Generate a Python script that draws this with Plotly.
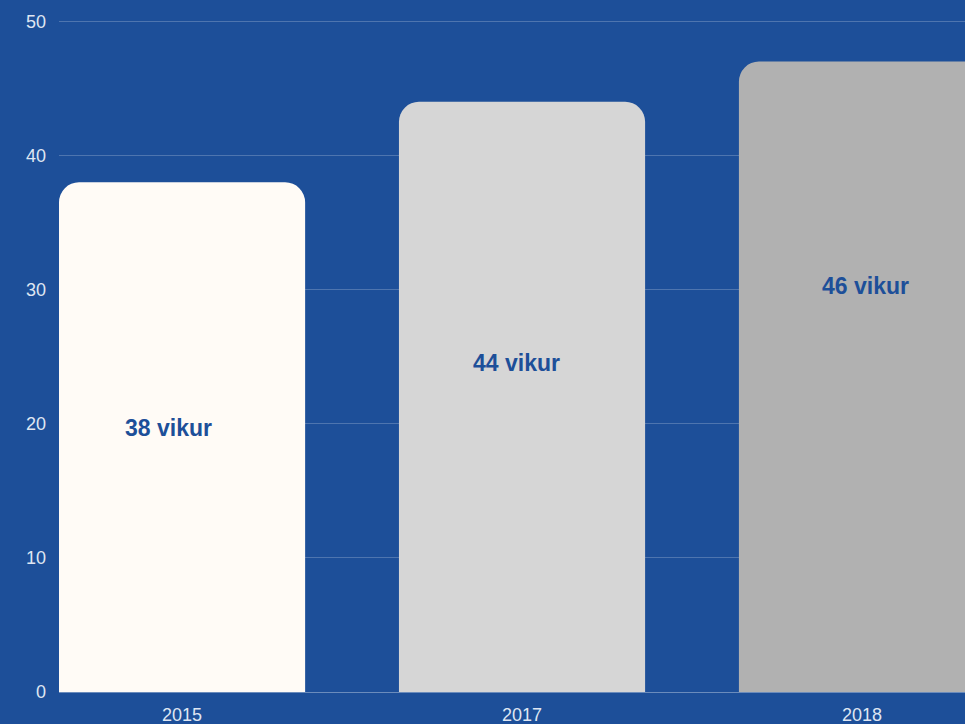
import plotly.graph_objects as go

years = ["2015", "2017", "2018"]
weeks = [38, 44, 47]
labels = ["38 vikur", "44 vikur", "46 vikur"]
bar_colors = ["#fffbf6", "#d6d6d6", "#b1b1b1"]

bg = "#1d4f99"

fig = go.Figure()
fig.add_trace(go.Bar(
    x=years, y=weeks,
    marker=dict(color=bar_colors, line=dict(width=0)),
    width=0.724,
    hoverinfo="skip",
))

# labels sit at different heights (and slightly off-centre) inside each bar
label_y = [19.7, 24.5, 30.3]
label_shift = [-14, -6, 4]
for i, (txt, ly, dx) in enumerate(zip(labels, label_y, label_shift)):
    fig.add_annotation(x=i, y=ly, xref="x", yref="y", text=f"<b>{txt}</b>",
                       showarrow=False, xshift=dx,
                       font=dict(family="Liberation Sans, Arial", size=23, color=bg))

fig.update_layout(
    width=965, height=724,
    paper_bgcolor=bg, plot_bgcolor=bg,
    margin=dict(l=59, r=0, t=20, b=32),
    barcornerradius=20,
    showlegend=False,
    font=dict(family="Liberation Sans, Arial", size=18, color="#dfe6f2"),
)
fig.update_xaxes(type="category", range=[-0.362, 2.303], showgrid=False,
                 showline=True, linecolor="rgba(255,255,255,0.35)", linewidth=1,
                 ticks="", ticklabelstandoff=6, tickfont=dict(size=18, color="#dfe6f2"))
# tiny headroom so the 50 gridline is drawn
fig.update_yaxes(range=[0, 50.1], tickvals=[0, 10, 20, 30, 40, 50], showgrid=True,
                 gridcolor="rgba(255,255,255,0.22)", gridwidth=1,
                 zeroline=False, ticks="", ticklabelstandoff=12,
                 tickfont=dict(size=18, color="#dfe6f2"))

fig.write_html("out.html", config={"displayModeBar": False},
               post_script="document.body.style.margin='0';")
